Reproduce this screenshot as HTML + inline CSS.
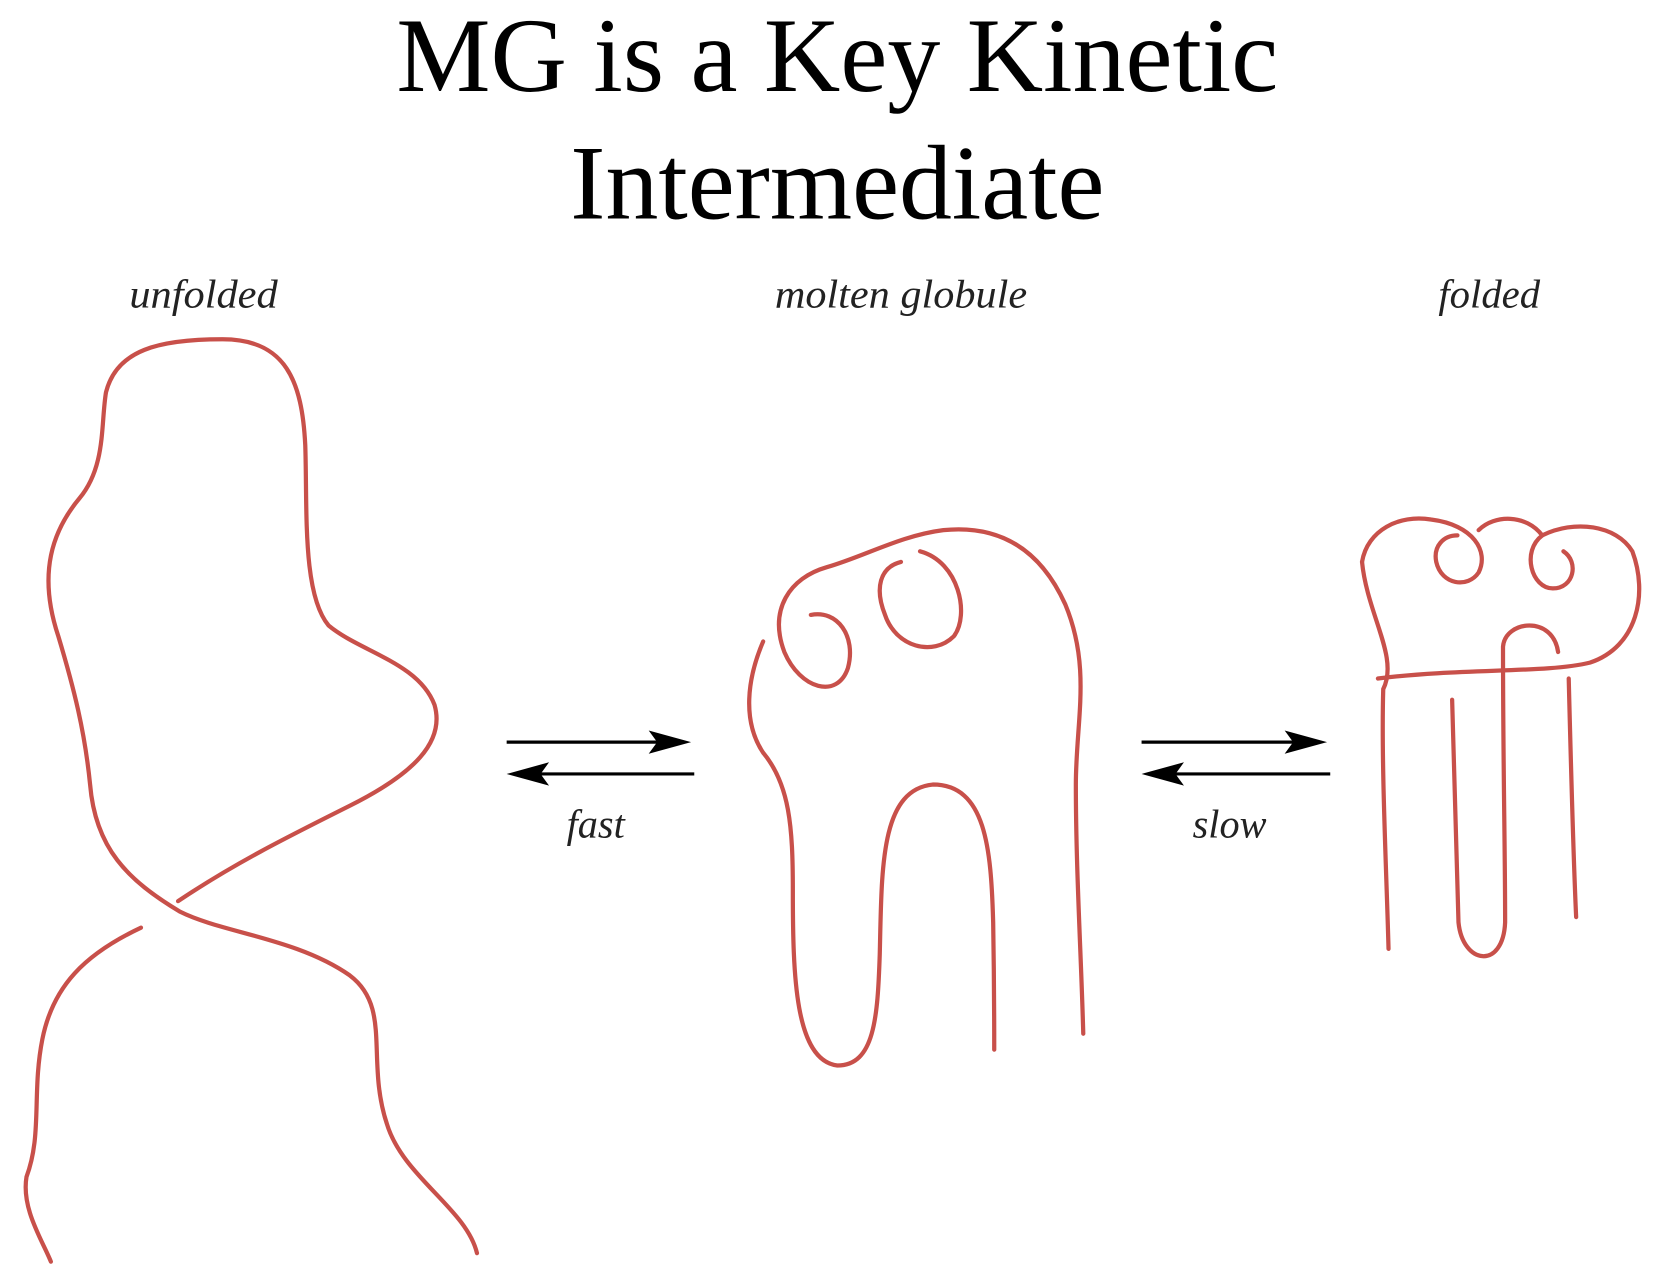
<!DOCTYPE html>
<html><head><meta charset="utf-8"><style>
html,body{margin:0;padding:0;background:#fff;}
svg{display:block}
</style></head><body>
<svg width="1662" height="1268" viewBox="0 0 1568 1196" preserveAspectRatio="none" xmlns="http://www.w3.org/2000/svg">
<rect width="1568" height="1196" fill="#fff"/>
<g font-family="'Liberation Serif', serif" font-size="100" text-anchor="middle" fill="#000">
<text x="790" y="86" textLength="832" lengthAdjust="spacingAndGlyphs">MG is a Key Kinetic</text>
<text x="790" y="206" textLength="504" lengthAdjust="spacingAndGlyphs">Intermediate</text>
</g>
<g font-family="'Liberation Serif', serif" font-style="italic" font-size="38" text-anchor="middle" fill="#222">
<text x="192" y="290" textLength="140" lengthAdjust="spacingAndGlyphs">unfolded</text>
<text x="850" y="290" textLength="238" lengthAdjust="spacingAndGlyphs">molten globule</text>
<text x="1405" y="290" textLength="96" lengthAdjust="spacingAndGlyphs">folded</text>
<text x="562" y="790">fast</text>
<text x="1160" y="790">slow</text>
</g>
<g stroke="#000" stroke-width="3" fill="#000">
<g><line x1="478" y1="700" x2="630" y2="700"/><path d="M652 700 L612 689 L620 700 L612 711 Z" stroke="none"/></g>
<g><line x1="655" y1="730" x2="500" y2="730"/><path d="M478 730 L518 719 L510 730 L518 741 Z" stroke="none"/></g>
<g><line x1="1077" y1="700" x2="1230" y2="700"/><path d="M1252 700 L1212 689 L1220 700 L1212 711 Z" stroke="none"/></g>
<g><line x1="1255" y1="730" x2="1100" y2="730"/><path d="M1077 730 L1117 719 L1109 730 L1117 741 Z" stroke="none"/></g>
</g>
<g stroke="#c8504a" stroke-width="4" fill="none" stroke-linecap="round">
<path d="M450 1182 C440 1140 380 1110 365 1060 C345 1000 370 950 330 920 C280 885 210 880 170 860 C120 830 90 800 85 740 C80 690 70 650 55 600 C35 540 50 500 75 470 C100 440 95 400 100 370 C110 330 150 320 210 320 C270 320 285 360 288 420 C290 480 285 560 310 590 C340 615 395 625 410 665 C420 700 390 730 330 760 C270 790 220 815 168 850"/>
<path d="M133 875 C80 900 50 930 40 980 C30 1030 40 1070 25 1110 C20 1140 40 1170 48 1190"/>
<path d="M720 605 C705 640 700 680 720 710 C745 740 748 780 748 840 C748 920 750 1000 790 1005 C825 1005 828 960 830 900 C832 820 830 745 880 740 C930 740 935 800 937 870 C938 930 938 960 938 990"/>
<path d="M1022 975 C1020 900 1015 820 1015 740 C1015 680 1030 630 1005 570 C980 515 940 495 890 500 C850 505 815 525 780 535 C745 545 725 575 740 615 C755 650 790 660 800 630 C808 600 790 575 765 580"/>
<path d="M868 520 C905 530 915 580 900 600 C880 620 845 610 835 580 C825 555 830 535 850 530"/>
<path d="M1285 530 C1290 500 1320 485 1350 490 C1390 495 1405 520 1395 540 C1385 555 1360 552 1355 530 C1352 515 1362 505 1375 505"/>
<path d="M1285 530 C1290 580 1320 620 1305 650 C1303 720 1308 820 1310 895"/>
<path d="M1300 640 C1380 630 1460 635 1500 625 C1545 610 1555 560 1540 520 C1525 495 1485 490 1455 505 C1435 520 1445 555 1465 555 C1485 555 1490 530 1475 520"/>
<path d="M1395 500 C1410 485 1440 485 1455 505"/>
<path d="M1370 660 C1372 740 1374 820 1376 870 C1380 910 1418 915 1420 870 C1420 800 1418 720 1418 610 C1420 585 1465 580 1470 615"/>
<path d="M1480 640 C1482 720 1484 800 1487 865"/>
</g>
</svg>
</body></html>
